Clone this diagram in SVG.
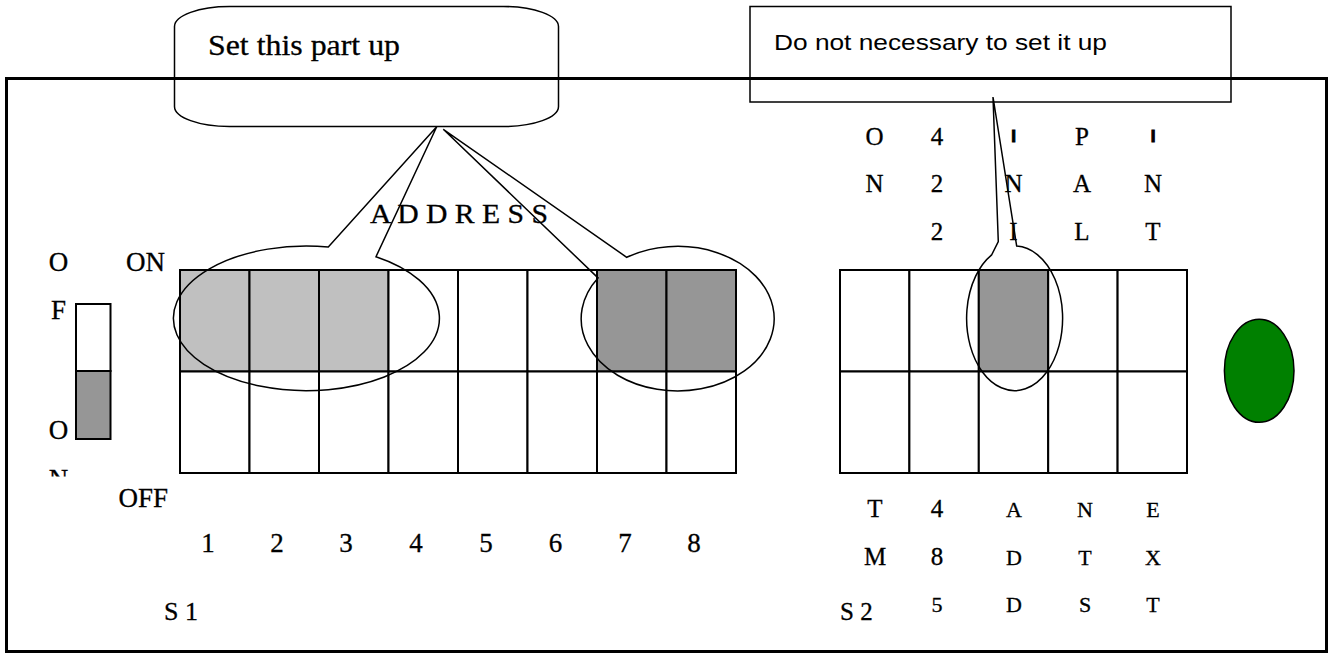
<svg xmlns="http://www.w3.org/2000/svg" width="1330" height="655" viewBox="0 0 1330 655">
<defs>
<style>
.ln{fill:none;stroke:#000;stroke-width:1.5}
.cell{fill:#fff;stroke:#000;stroke-width:2}
.lg{fill:#c0c0c0;stroke:#000;stroke-width:2}
.dg{fill:#969696;stroke:#000;stroke-width:2}
.t{font-family:"Liberation Serif","Times New Roman",serif;fill:#000;stroke:#000;stroke-width:0.3}
.s{font-family:"Liberation Sans",Arial,sans-serif;fill:#000}
.m{text-anchor:middle}
.l25{font-size:25px}
.l22{font-size:22px}
.l27{font-size:27px}
.bar{font-family:"Liberation Sans",Arial,sans-serif;font-weight:bold;font-size:17px;text-anchor:middle;stroke:#000;stroke-width:1}
</style>
<clipPath id="clipN"><rect x="40" y="460" width="40" height="16.5"/></clipPath>
</defs>
<rect width="1330" height="655" fill="#fff"/>

<g id="frame">
<rect x="6.5" y="78.5" width="1320" height="573" fill="none" stroke="#000" stroke-width="3"/>
</g>

<g id="callout-set">
<path class="ln" d="M229.5,6.5 H503.5 A55,20 0 0 1 558.5,26.5 V106.5 A55,20 0 0 1 503.5,126.5 H229.5 A55,20 0 0 1 174.5,106.5 V26.5 A55,20 0 0 1 229.5,6.5 Z"/>
<text class="t" x="208" y="55" font-size="30" textLength="192" lengthAdjust="spacingAndGlyphs">Set this part up</text>
</g>

<g id="callout-not">
<rect class="ln" x="750" y="6.5" width="481" height="95.5"/>
<text class="s" x="774" y="50" font-size="22" textLength="333" lengthAdjust="spacingAndGlyphs">Do not necessary to set it up</text>
</g>

<g id="switch-small">
<rect class="cell" x="76" y="304" width="34.5" height="67"/>
<rect class="dg" x="76" y="371" width="34.5" height="68"/>
<text class="t l27 m" x="58.5" y="270.5">O</text>
<text class="t l27 m" x="58.5" y="319">F</text>
<text class="t l27 m" x="58.5" y="438.5">O</text>
<text class="t l27 m" x="58.5" y="487.5" clip-path="url(#clipN)">N</text>
<text class="t l27" x="126" y="270.5">ON</text>
<text class="t l27" x="118.5" y="507">OFF</text>
</g>

<g id="switch-s1">
<rect class="lg" x="180" y="270" width="69.5" height="101.5"/>
<rect class="lg" x="249.5" y="270" width="69.5" height="101.5"/>
<rect class="lg" x="319" y="270" width="69.5" height="101.5"/>
<rect class="cell" x="388.5" y="270" width="69.5" height="101.5"/>
<rect class="cell" x="458" y="270" width="69.5" height="101.5"/>
<rect class="cell" x="527.5" y="270" width="69.5" height="101.5"/>
<rect class="dg" x="597" y="270" width="69.5" height="101.5"/>
<rect class="dg" x="666.5" y="270" width="69.5" height="101.5"/>
<rect class="cell" x="180" y="371.5" width="69.5" height="101.5"/>
<rect class="cell" x="249.5" y="371.5" width="69.5" height="101.5"/>
<rect class="cell" x="319" y="371.5" width="69.5" height="101.5"/>
<rect class="cell" x="388.5" y="371.5" width="69.5" height="101.5"/>
<rect class="cell" x="458" y="371.5" width="69.5" height="101.5"/>
<rect class="cell" x="527.5" y="371.5" width="69.5" height="101.5"/>
<rect class="cell" x="597" y="371.5" width="69.5" height="101.5"/>
<rect class="cell" x="666.5" y="371.5" width="69.5" height="101.5"/>
<text class="t l27" x="370" y="223" textLength="178" lengthAdjust="spacingAndGlyphs">A D D R E S S</text>
<g class="t m" font-size="27">
<text x="208" y="552">1</text>
<text x="277" y="552">2</text>
<text x="346" y="552">3</text>
<text x="416" y="552">4</text>
<text x="486" y="552">5</text>
<text x="555.5" y="552">6</text>
<text x="625" y="552">7</text>
<text x="694" y="552">8</text>
</g>
<text class="t" x="164" y="620" font-size="26">S 1</text>
</g>

<g id="switch-s2">
<rect class="cell" x="840" y="270" width="69.4" height="101.5"/>
<rect class="cell" x="909.4" y="270" width="69.4" height="101.5"/>
<rect class="dg" x="978.8" y="270" width="69.4" height="101.5"/>
<rect class="cell" x="1048.2" y="270" width="69.4" height="101.5"/>
<rect class="cell" x="1117.6" y="270" width="69.4" height="101.5"/>
<rect class="cell" x="840" y="371.5" width="69.4" height="101.5"/>
<rect class="cell" x="909.4" y="371.5" width="69.4" height="101.5"/>
<rect class="cell" x="978.8" y="371.5" width="69.4" height="101.5"/>
<rect class="cell" x="1048.2" y="371.5" width="69.4" height="101.5"/>
<rect class="cell" x="1117.6" y="371.5" width="69.4" height="101.5"/>
<g class="t l25 m">
<text x="874.5" y="145">O</text>
<text x="937" y="145">4</text>
<text x="1082" y="145">P</text>
<text x="874.5" y="191.5">N</text>
<text x="937" y="191.5">2</text>
<text x="1013.5" y="191.5">N</text>
<text x="1082" y="191.5">A</text>
<text x="1153" y="191.5">N</text>
<text x="937" y="240">2</text>
<text x="1013.5" y="240">I</text>
<text x="1082" y="240">L</text>
<text x="1153" y="240">T</text>
<text x="875" y="516.5">T</text>
<text x="937" y="516.5">4</text>
<text x="875" y="565">M</text>
<text x="937" y="565">8</text>
</g>
<text class="bar" x="1013.5" y="142">I</text>
<text class="bar" x="1153" y="142">I</text>
<g class="t l22 m">
<text x="1014" y="516.5">A</text>
<text x="1085" y="516.5">N</text>
<text x="1153" y="516.5">E</text>
<text x="1014" y="564.5">D</text>
<text x="1085" y="564.5">T</text>
<text x="1153" y="564.5">X</text>
<text x="937" y="611.5">5</text>
<text x="1014" y="611.5">D</text>
<text x="1085" y="611.5">S</text>
<text x="1153" y="611.5">T</text>
</g>
<text class="t" x="840" y="620" font-size="25">S 2</text>
</g>

<g id="led">
<ellipse cx="1259.2" cy="370.8" rx="34.8" ry="51.5" fill="#008000" stroke="#000" stroke-width="1.5"/>
</g>

<g id="connectors">
<path class="ln" d="M376,256.7 L436.7,126.7 L328.3,247 A133,72.3 0 1 0 376,256.7 Z"/>
<path class="ln" d="M598,277.9 L443.3,129.3 L626.7,257.3 A96.5,72.3 0 1 1 598,277.9 Z"/>
<path class="ln" d="M1016.7,246.1 L993,97 L998.3,241.7 L991.7,254.8 A48,72.3 0 1 0 1016.7,246.1 Z"/>
</g>
</svg>
